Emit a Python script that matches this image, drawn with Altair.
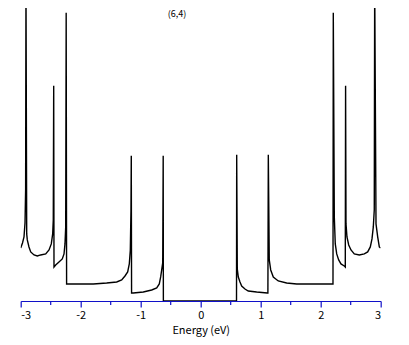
import altair as alt
import pandas as pd

# Density of states of the (6,4) nanotube (arb. units)
energy = [-3.0, -2.97, -2.945, -2.928, -2.918, -2.912, -2.90, -2.89, -2.862, -2.833,
          -2.778, -2.723, -2.667, -2.583, -2.528, -2.49, -2.467, -2.457, -2.45, -2.445,
          -2.417, -2.362, -2.307, -2.278, -2.262, -2.25, -2.242, -2.235, -2.012, -1.79,
          -1.567, -1.40, -1.317, -1.262, -1.217, -1.19, -1.173, -1.162, -1.157, -1.152,
          -1.123, -0.957, -0.817, -0.733, -0.69, -0.667, -0.65, -0.633, -0.625, -0.622,
          0.597, 0.60, 0.61, 0.627, 0.655, 0.683, 0.738, 0.793, 0.933, 1.11,
          1.12, 1.127, 1.143, 1.167, 1.21, 1.293, 1.433, 1.60, 1.877, 2.10,
          2.205, 2.21, 2.227, 2.243, 2.267, 2.30, 2.338, 2.393, 2.41, 2.415,
          2.422, 2.438, 2.467, 2.505, 2.56, 2.643, 2.727, 2.783, 2.827, 2.855,
          2.877, 2.893, 2.90, 2.922, 2.95, 2.977, 2.997]
dos = [0.53, 0.58, 0.64, 0.78, 1.11, 3.2, 0.67, 0.61, 0.54, 0.49,
       0.46, 0.45, 0.46, 0.47, 0.51, 0.57, 0.67, 0.81, 2.15, 0.34,
       0.36, 0.39, 0.42, 0.47, 0.57, 0.74, 2.88, 0.17, 0.17, 0.17,
       0.18, 0.19, 0.21, 0.25, 0.29, 0.37, 0.51, 0.91, 1.45, 0.08,
       0.08, 0.09, 0.11, 0.13, 0.17, 0.24, 0.31, 0.38, 1.45, 0.0,
       0.0, 1.46, 0.32, 0.24, 0.19, 0.15, 0.12, 0.10, 0.09, 0.08,
       0.08, 1.46, 0.41, 0.31, 0.24, 0.20, 0.18, 0.17, 0.17, 0.17,
       0.17, 2.88, 0.84, 0.57, 0.47, 0.41, 0.37, 0.35, 0.34, 2.15,
       0.77, 0.64, 0.56, 0.51, 0.47, 0.46, 0.47, 0.49, 0.54, 0.62,
       0.74, 0.91, 3.2, 0.77, 0.64, 0.54, 0.53]

major_ticks = [-3, -2, -1, 0, 1, 2, 3]
minor_ticks = [-2.5, -1.5, -0.5, 0.5, 1.5, 2.5]
title_text = "(6,4)"
x_title = "Energy (eV)"

BLUE = "#1010c8"
FONT = "Noto Sans CJK JP"
W, H = 360, 293

df = pd.DataFrame({"E": energy, "D": dos, "i": list(range(len(energy)))})
minor_df = pd.DataFrame({"E": minor_ticks})

xscale = alt.Scale(domain=[-3, 3], nice=False, zero=False)

line = alt.Chart(df).mark_line(color="black", strokeWidth=1.4, clip=True).encode(
    x=alt.X("E:Q", scale=xscale,
            axis=alt.Axis(values=major_ticks, title=x_title, grid=False,
                          domainColor=BLUE, tickColor=BLUE, tickSize=6,
                          domainWidth=1.2, tickWidth=1.2,
                          labelColor="black", labelFont=FONT, labelFontSize=11,
                          labelPadding=3, titleFont=FONT, titleFontSize=11,
                          titleFontWeight="normal", titleColor="black",
                          titlePadding=4,
                          labelExpr="datum.value < 0 ? '-' + abs(datum.value) : '' + datum.value")),
    y=alt.Y("D:Q", scale=alt.Scale(domain=[0, 2.927], nice=False), axis=None),
    order="i:Q",
)

minor = alt.Chart(minor_df).mark_rule(color=BLUE, strokeWidth=1.2).encode(
    x=alt.X("E:Q", scale=xscale),
    y=alt.value(H),
    y2=alt.value(H + 4),
)

title = alt.Chart(pd.DataFrame({"t": [title_text]})).mark_text(
    font=FONT, fontSize=9, color="black", baseline="top", align="center"
).encode(x=alt.value(177 - 20.7), y=alt.value(2), text="t:N")

chart = alt.layer(line, minor, title).properties(
    width=W, height=H,
    autosize=alt.AutoSizeParams(type="none"),
    padding={"left": 12.7, "top": 0, "right": 20, "bottom": 40},
).configure_view(stroke=None)

chart.save("out.html", embed_options={"renderer": "svg", "actions": False})
